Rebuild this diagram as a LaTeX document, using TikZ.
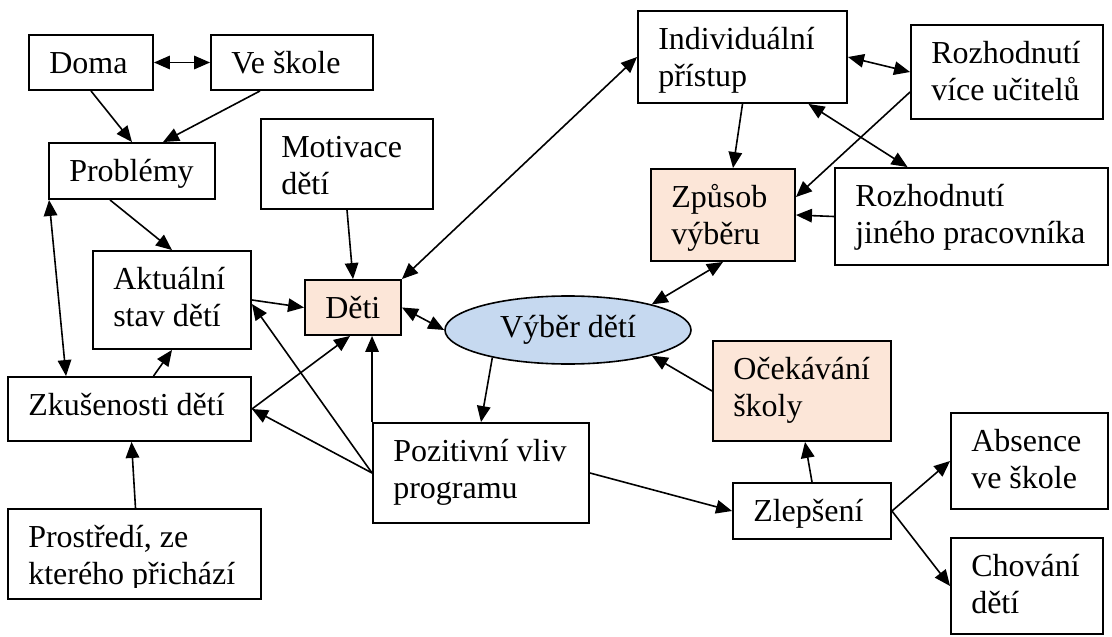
\documentclass[tikz,border=0pt]{standalone}
\usepackage{fontspec}
\setmainfont{Liberation Serif}
\usetikzlibrary{arrows.meta,shapes.geometric,fit}
\definecolor{peach}{HTML}{FCE6D8}
\definecolor{paleblue}{HTML}{C6D9F0}
\tikzset{
  box/.style={draw, line width=1.9pt, inner sep=0pt},
  label text/.style={anchor=base west, inner sep=0pt, font=\fontsize{32}{37.5}\selectfont},
  link/.style={line width=1.6pt, -{Triangle[length=16pt,width=13.5pt]}},
  both/.style={line width=1.6pt, {Triangle[length=16pt,width=13.5pt]}-{Triangle[length=16pt,width=13.5pt]}},
}
% \mybox[fill]{name}{left}{top}{right}{bottom}{text}
\newcommand\mybox[7][white]{%
  \node[box, fill=#1, fit={(#3,#4) (#5,#6)}] (#2) {};
  \node[label text] (#2-t) at ([xshift=21pt,yshift=-39pt]#2.north west)
    {\begin{tabular}[t]{@{}l@{}}#7\end{tabular}};}
\begin{document}
\begin{tikzpicture}[x=1pt,y=-1pt]
\useasboundingbox (0,0) rectangle (1112,637);

% boxes
\mybox{doma}{29}{35}{153}{90}{Doma}
\mybox{veskole}{211}{35}{373}{90}{Ve škole}
\mybox{problemy}{49}{143}{215}{199}{Problémy}
\mybox{motivace}{261}{119}{433}{209}{Motivace\\dětí}
\mybox{aktualni}{93}{251}{251}{349}{Aktuální\\stav dětí}
\mybox[peach]{deti}{305}{280}{401}{335}{Děti}
\mybox{zkusenosti}{8}{377}{251}{441}{Zkušenosti dětí}
\node[box, fit={(8,509) (261,599)}] (prostredi) {};
\begin{scope}
  % the second line is cut off at its baseline
  \clip (8,509) rectangle (261,587);
  \node[label text] (prostredi-t) at ([xshift=21pt,yshift=-39pt]prostredi.north west)
    {\begin{tabular}[t]{@{}l@{}}Prostředí, ze\\kterého přichází\end{tabular}};
\end{scope}
\mybox{pozitivni}{373}{423}{589}{523}{Pozitivní vliv\\programu}
\mybox{individualni}{638}{11}{847}{103}{Individuální\\přístup}
\mybox{rozhodnuti}{911}{25}{1103}{119}{Rozhodnutí\\více učitelů}
\mybox[peach]{zpusob}{651}{169}{795}{261}{Způsob\\výběru}
\mybox{jineho}{835}{168}{1108}{265}{Rozhodnutí\\jiného pracovníka}
\mybox[peach]{ocekavani}{713}{341}{891}{441}{Očekávání\\školy}
\mybox{zlepseni}{733}{483}{891}{539}{Zlepšení}
\mybox{absence}{951}{413}{1108}{509}{Absence\\ve škole}
\mybox{chovani}{951}{538}{1103}{634}{Chování\\dětí}

% central ellipse
\node[ellipse, draw, line width=1.6pt, fill=paleblue, inner sep=0pt,
      minimum width=246pt, minimum height=68pt,
      font=\fontsize{32}{37.5}\selectfont] (vyber) at (568,330) {Výběr dětí};

% connectors
\draw[both] (doma.east) -- (veskole.west);
\draw[link] (doma.south) -- (problemy.north);
\draw[link] ([xshift=-32pt]veskole.south) -- ([xshift=31pt]problemy.north);
\draw[link] ([xshift=-22pt]problemy.south) -- (aktualni.north);
\draw[both] ([xshift=1pt]problemy.south west) -- ([xshift=59pt]zkusenosti.north west);
\draw[link] (motivace.south) -- (deti.north);
\draw[link] (aktualni.east) -- (deti.west);
\draw[link] ([xshift=24pt]zkusenosti.north) -- (aktualni.south);
\draw[link] (zkusenosti.east) -- ([xshift=-3pt]deti.south);
\draw[link] ([xshift=1pt]prostredi.north) -- ([xshift=2pt]zkusenosti.south);
\draw[link] (pozitivni.west) -- (zkusenosti.east);
\draw[link] (pozitivni.west) -- ([yshift=-4pt]aktualni.east);
\draw[link] (pozitivni.north west) -- (pozitivni.north west |- deti.south);
\draw[both] (deti.east) -- (vyber.west);
\draw[both] (deti.north east) -- (individualni.west);
\draw[link] (individualni.south) -- ([xshift=10pt]zpusob.north);
\draw[both] (individualni.east) -- (rozhodnuti.west);
\draw[both] ([xshift=66pt]individualni.south) -- ([xshift=-64pt]jineho.north);
\draw[link] ([yshift=-20pt]rozhodnuti.west) -- ([yshift=18pt]zpusob.east);
\draw[link] (jineho.west) -- (zpusob.east);
\draw[both] (zpusob.south) -- (vyber.17);
\draw[link] (vyber.200) -- (pozitivni.north);
\draw[link] (ocekavani.west) -- (vyber.-17);
\draw[link] (zlepseni.north) -- ([xshift=3pt]ocekavani.south);
\draw[link] (pozitivni.east) -- (zlepseni.west);
\draw[link] (zlepseni.east) -- (absence.west);
\draw[link] (zlepseni.east) -- (chovani.west);
\end{tikzpicture}
\end{document}
